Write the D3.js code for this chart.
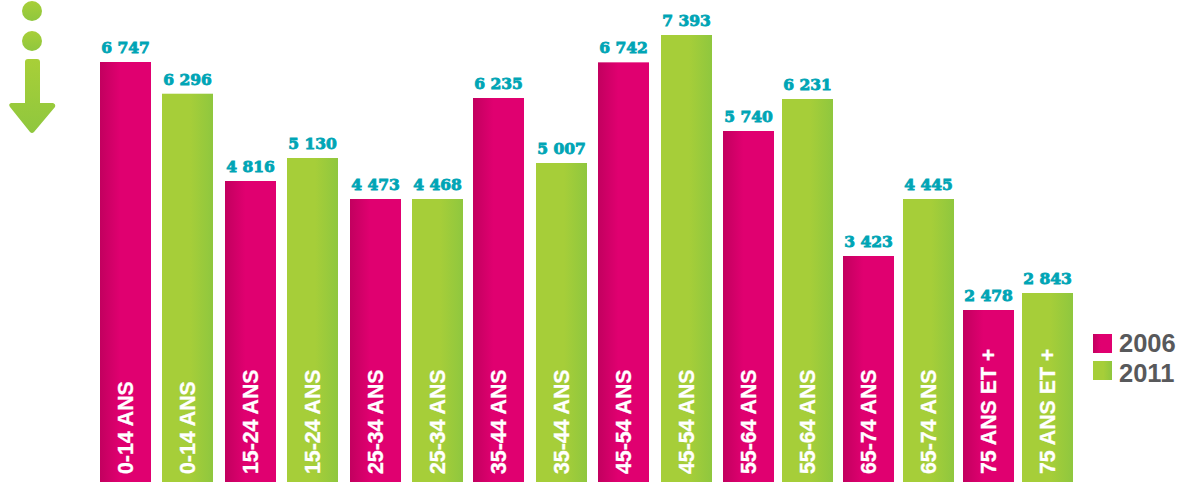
<!DOCTYPE html>
<html>
<head>
  <meta charset="utf-8">
  <title>Population par tranche d'age</title>
  <script src="https://d3js.org/d3.v7.min.js"></script>
  <style>
    html, body, svg {
      margin: 0;
      padding: 0;
      background: #fff;
      overflow: hidden;
    }
    svg { display: block; }
    .cat {
      font-family: "Liberation Sans", Arial, sans-serif;
      font-weight: bold;
      font-size: 21.3px;
      fill: #fff;
      stroke: #fff;
      stroke-width: 0.3px;
    }
    .val {
      font-family: "DejaVu Serif", serif;
      font-weight: bold;
      font-size: 15.5px;
      fill: #00a5b5;
      stroke: #00a5b5;
      stroke-width: 0.85px;
      text-anchor: middle;
    }
    .leg {
      font-family: "Liberation Sans", Arial, sans-serif;
      font-weight: bold;
      font-size: 25.5px;
      fill: #58595b;
    }
  </style>
</head>
<body>
  <svg width="1180" height="482"></svg>
  <script>
    // Data
    const categories = ["0-14 ANS", "15-24 ANS", "25-34 ANS", "35-44 ANS", "45-54 ANS", "55-64 ANS", "65-74 ANS", "75 ANS ET +"];
    const years = ["2006", "2011"];
    const values2006 = [6747, 4816, 4473, 6235, 6742, 5740, 3423, 2478];
    const values2011 = [6296, 5130, 4468, 5007, 7393, 6231, 4445, 2843];

    const W = 1180, H = 482;
    const svg = d3.select("svg");
    const defs = svg.append("defs");

    // one bar per year per age group, in reading order
    const bars = categories.flatMap((c, i) => [
      { cat: c, year: years[0], value: values2006[i] },
      { cat: c, year: years[1], value: values2011[i] },
    ]);

    // the spacing of the bars is a bit uneven in the original
    const x = d3.scaleLinear().domain([0, 5, 6, 10, 11, 13, 15]).range([100, 412, 473, 723, 782, 903, 1022]);
    const barW = 51;

    // the bar heights of the original are not proportional to the numbers,
    // so the scale is piecewise
    const h = d3.scaleLinear()
      .domain([2478, 2843, 3423, 4445, 4473, 4816, 5007, 5130, 5740, 6231, 6235, 6747, 7393])
      .range([172, 189, 226, 283, 283, 301, 319, 324, 351, 383, 384, 420, 447]);

    function gradient(id, stops, vertical) {
      const g = defs.append("linearGradient").attr("id", id)
        .attr("x1", 0).attr("y1", 0)
        .attr("x2", vertical ? 0 : 1).attr("y2", vertical ? 1 : 0);
      stops.forEach(s => g.append("stop").attr("offset", s[0]).attr("stop-color", s[1]));
    }
    gradient("pink", [[0, "#c2005f"], [0.4, "#e00070"], [1, "#e00070"]]);
    gradient("green", [[0, "#a6ce39"], [0.55, "#a6ce39"], [1, "#8fc73e"]]);
    gradient("arrow", [[0, "#a8cf38"], [1, "#8fc73e"]], true);

    const fillFor = d3.scaleOrdinal().domain(years).range(["url(#pink)", "url(#green)"]);

    const bar = svg.selectAll("g.bar").data(bars).enter().append("g").attr("class", "bar");

    bar.append("rect")
      .attr("x", (d, i) => Math.round(x(i)))
      .attr("y", d => H - h(d.value))
      .attr("width", barW)
      .attr("height", d => h(d.value))
      .attr("fill", d => fillFor(d.year));

    bar.append("text")
      .attr("class", "val")
      .attr("x", (d, i) => Math.round(x(i)) + barW / 2)
      .attr("y", d => H - h(d.value) - 9)
      .text(d => d3.format(",")(d.value).replace(",", " "));

    bar.append("text")
      .attr("class", "cat")
      .attr("transform", (d, i) => `translate(${Math.round(x(i)) + barW / 2 + 7.5},474) rotate(-90)`)
      .text(d => d.cat);

    // Legend: the swatches and the texts don't have the same spacing
    const leg = svg.selectAll("g.legend").data(years).enter().append("g").attr("class", "legend")
      .attr("transform", (d, i) => `translate(1093,${334 + i * 27})`);
    leg.append("rect").attr("width", 19).attr("height", 19).attr("fill", d => fillFor(d));
    leg.append("text").attr("class", "leg").attr("x", 26).attr("y", (d, i) => 18 + i * 3).text(d => d);

    // Decoration: dots and arrow, top left
    const deco = svg.append("g").attr("fill", "url(#arrow)");
    deco.append("circle").attr("cx", 32).attr("cy", 11).attr("r", 10);
    deco.append("circle").attr("cx", 32).attr("cy", 41).attr("r", 10);
    deco.append("path")
      .attr("d", "M25,62 Q25,59 28,59 L37,59 Q40,59 40,62 L40,103 L53,103 Q56,104 55,107 L34,132 Q32,134 30,132 L10,107 Q8,104 11,103 L25,103 Z");
  </script>
</body>
</html>
